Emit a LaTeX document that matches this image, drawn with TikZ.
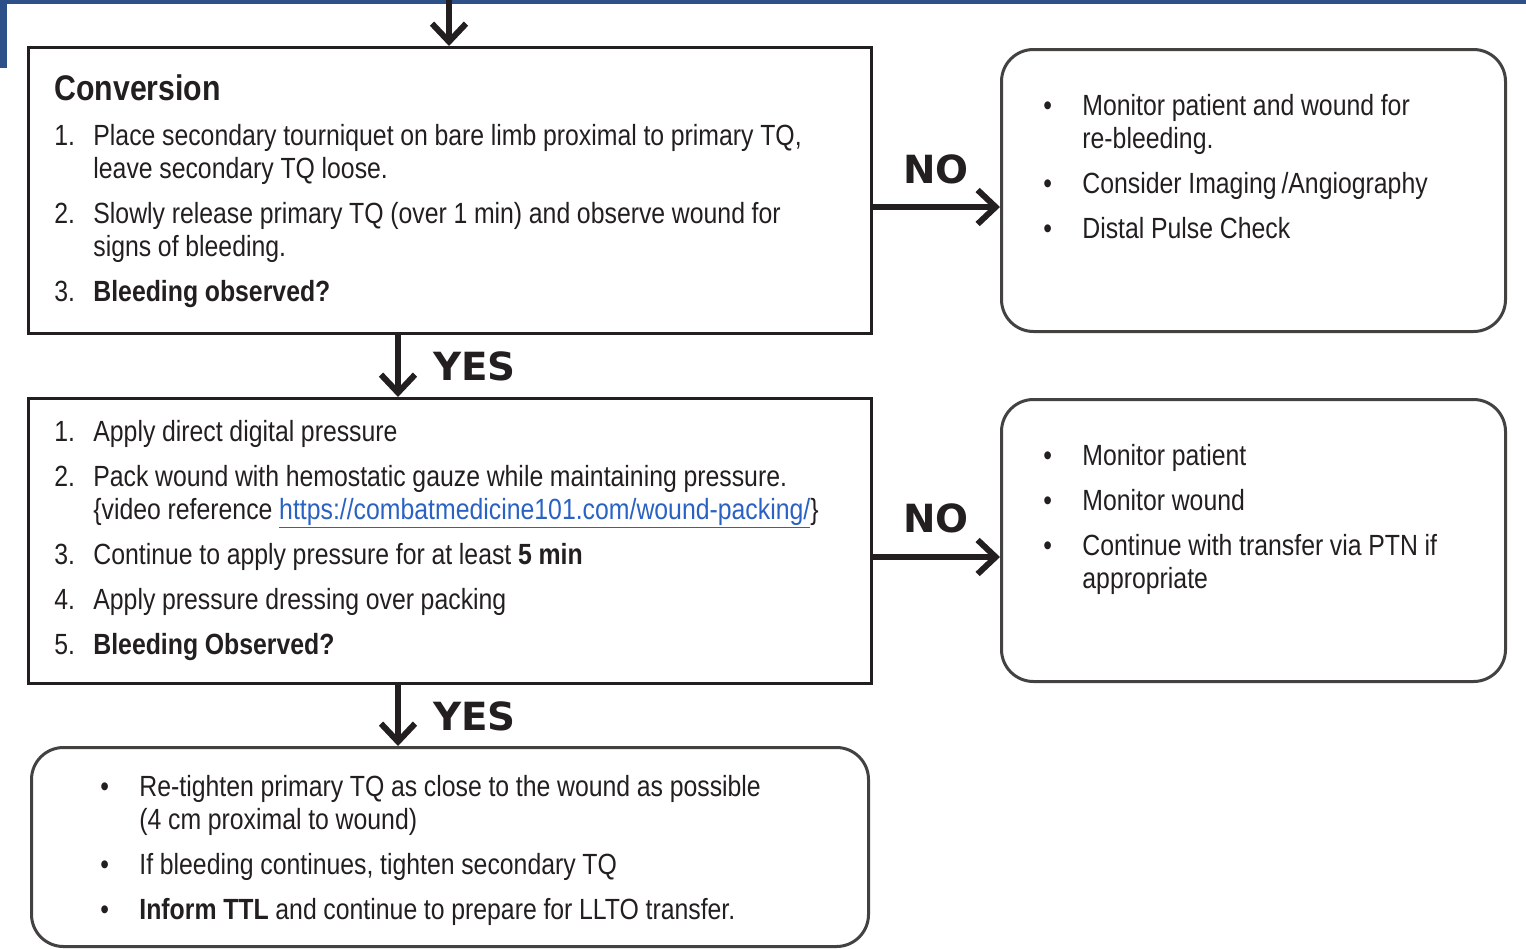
\documentclass[tikz,border=0pt]{standalone}
\usepackage{fontspec}
\setmainfont{Liberation Sans}[FakeStretch=0.85]
\newfontfamily\yesnofont{DejaVu Sans}
\usetikzlibrary{arrows.meta}
\definecolor{bannerblue}{HTML}{2E5088}
\definecolor{linkblue}{HTML}{2A62C4}
\definecolor{inkgray}{HTML}{231F20}
% numbered and bulleted entries with hanging indent
\newcommand\numit[2]{\hangindent=19.5pt\hangafter=1\noindent\makebox[19.5pt][l]{#1}#2\par}
\newcommand\bulit[1]{\hangindent=19.5pt\hangafter=1\noindent\makebox[19.5pt][l]{\textbullet}#1\par}
\newcommand\nl{\hfil\break}
\newcommand\listsetup{\fontsize{14.6}{16.5}\selectfont\setlength{\parskip}{6pt}}
\tikzset{
  sqbox/.style={draw=inkgray,line width=1.5pt,anchor=north west,inner sep=0},
  rndbox/.style={draw=inkgray!85,line width=1.5pt,rounded corners=16pt,anchor=north west,inner sep=0},
  listtext/.style={inner sep=0,anchor=base west,align=left,text=inkgray},
  yesno/.style={inner sep=0,anchor=base west,text=inkgray,font=\yesnofont\bfseries\fontsize{19.4}{19.4}\selectfont},
  bigarrow/.style={line width=3pt,draw=inkgray,-{Straight Barb[length=9pt,width=17pt]}}
}
\begin{document}
\begin{tikzpicture}[x=0.5pt,y=-0.5pt]
\useasboundingbox (0,0) rectangle (1526,948);
%banner
\fill[bannerblue] (0,0) rectangle (1526,4);
\fill[bannerblue] (0,0) rectangle (7,68);
%boxes
\node[sqbox,minimum width=421.5pt,minimum height=143pt] (conv) at (27,46) {};
\node[sqbox,minimum width=421.5pt,minimum height=142.5pt] (pack) at (27,397) {};
\node[rndbox,minimum width=418.5pt,minimum height=99.5pt] (retight) at (30,746) {};
\node[rndbox,minimum width=252pt,minimum height=141pt] (monA) at (1000,48) {};
\node[rndbox,minimum width=252pt,minimum height=141pt] (monB) at (1000,398) {};
%conversion
\node[listtext,font=\bfseries\fontsize{17.8}{17.8}\selectfont] (convtitle) at (54,100) {Conversion};
\node[listtext,text width=400pt] (convlist) at (54,145) {\listsetup%
\numit{1.}{Place secondary tourniquet on bare limb proximal to primary TQ,\nl leave secondary TQ loose.}%
\numit{2.}{Slowly release primary TQ (over 1 min) and observe wound for\nl signs of bleeding.}%
\numit{3.}{\textbf{Bleeding observed?}}};
%packing
\node[listtext,text width=400pt] (packlist) at (54,441) {\listsetup%
\numit{1.}{Apply direct digital pressure}%
\numit{2.}{Pack wound with hemostatic gauze while maintaining pressure.\nl \{video reference \textcolor{linkblue}{\underline{https://combatmedicine101.com/wound-packing/}}\}}%
\numit{3.}{Continue to apply pressure for at least \textbf{5 min}}%
\numit{4.}{Apply pressure dressing over packing}%
\numit{5.}{\textbf{Bleeding Observed?}}};
%retighten
\node[listtext,text width=380pt] (retlist) at (100,796) {\listsetup%
\bulit{Re-tighten primary TQ as close to the wound as possible\nl (4 cm proximal to wound)}%
\bulit{If bleeding continues, tighten secondary TQ}%
\bulit{\textbf{Inform TTL} and continue to prepare for LLTO transfer.}};
%monitor
\node[listtext,text width=220pt] (monAlist) at (1043,115) {\listsetup%
\bulit{Monitor patient and wound for\nl re-bleeding.}%
\bulit{Consider Imaging\,/Angiography}%
\bulit{Distal Pulse Check}};
\node[listtext,text width=220pt] (monBlist) at (1043,465) {\listsetup%
\bulit{Monitor patient}%
\bulit{Monitor wound}%
\bulit{Continue with transfer via PTN if\nl appropriate}};
%arrows
\coordinate (entry) at (449,0);
\coordinate (yesx) at (398,0);
\coordinate (noA) at (0,207);
\coordinate (noB) at (0,557);
\draw[bigarrow] (entry) -- (entry |- conv.north);
\draw[bigarrow] (conv.south -| yesx) -- (pack.north -| yesx);
\draw[bigarrow] (pack.south -| yesx) -- (retight.north -| yesx);
\draw[bigarrow] (conv.east |- noA) -- (monA.west |- noA);
\draw[bigarrow] (pack.east |- noB) -- (monB.west |- noB);
\node[yesno] (yesA) at (433,380) {YES};
\node[yesno] (yesB) at (433,730) {YES};
\node[yesno] (noAlabel) at (903,183) {NO};
\node[yesno] (noBlabel) at (903,532) {NO};
\end{tikzpicture}
\end{document}
